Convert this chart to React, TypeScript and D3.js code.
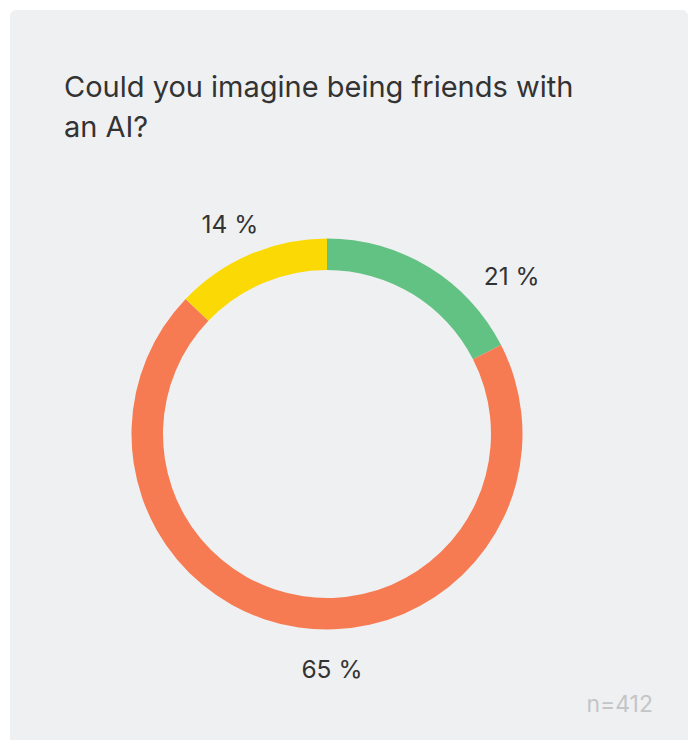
import React from "react";
import * as d3 from "d3";

const categories = ["Yes", "No", "Maybe"];
const counts = [72, 287, 53];
const shareLabels = ["21 %", "65 %", "14 %"];
const colors = ["#62c283", "#f67b52", "#fad905"];
const title = ["Could you imagine being friends with", "an AI?"];
const sampleNote = "n=412";

const W = 691;
const H = 740;

export default function App() {
  const cx = 327;
  const cy = 434;
  const outer = 195.5;
  const inner = 164;
  const pie = d3
    .pie<number>()
    .sort(null)
    .value((d) => d)(counts);
  const arc = d3.arc<d3.PieArcDatum<number>>().innerRadius(inner).outerRadius(outer);
  // label placement tweaks (degrees, radius)
  const labelAngleShift = [18, -9.5, -1.7];
  const labelRadius = [243, 235.5, 231];
  const font = "Inter, 'Noto Sans', sans-serif";
  return (
    <svg width={W} height={H} style={{ position: "absolute", left: 0, top: 0 }}>
      <rect x={10} y={10} width={678} height={760} rx={6} fill="#eff0f2" />
      <text fontFamily={font} fontSize={29} fill="#333333">
        {title.map((t, i) => (
          <tspan key={i} x={64} y={97 + i * 39.5}>
            {t}
          </tspan>
        ))}
      </text>
      <g transform={`translate(${cx},${cy})`}>
        {pie.map((p, i) => (
          <path key={categories[i]} d={arc(p) || ""} fill={colors[i]} />
        ))}
        {pie.map((p, i) => {
          const a = (p.startAngle + p.endAngle) / 2 + (labelAngleShift[i] * Math.PI) / 180;
          const r = labelRadius[i];
          const x = Math.sin(a) * r;
          const y = -Math.cos(a) * r;
          return (
            <text
              key={"l" + i}
              x={x}
              y={y}
              textAnchor="middle"
              dominantBaseline="central"
              fontFamily={font}
              fontSize={24.5}
              fill="#333333"
            >
              {shareLabels[i]}
            </text>
          );
        })}
      </g>
      <text x={653} y={712} textAnchor="end" fontFamily={font} fontSize={23} fill="#c4c5c7">
        {sampleNote}
      </text>
    </svg>
  );
}
